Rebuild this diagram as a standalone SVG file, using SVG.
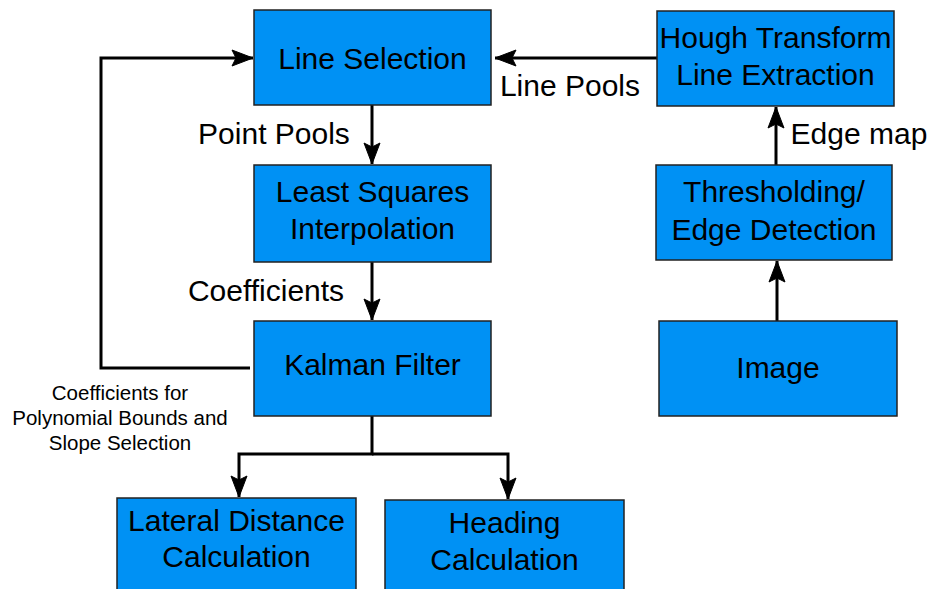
<svg xmlns="http://www.w3.org/2000/svg" width="930" height="589" viewBox="0 0 930 589">
<style>
.box{fill:#0091f4;stroke:#222;stroke-width:1.5}
.t{font-family:"Liberation Sans",Arial,sans-serif;font-size:30px;fill:#000;text-anchor:middle}
.s{font-family:"Liberation Sans",Arial,sans-serif;font-size:20.5px;fill:#000;text-anchor:middle}
.c{fill:none;stroke:#000;stroke-width:3}
</style>
<defs>
<marker id="ah" markerUnits="userSpaceOnUse" markerWidth="22" markerHeight="18" viewBox="0 0 22 18" refX="21" refY="9" orient="auto" overflow="visible">
<path d="M0,1 L21,9 L0,17 L4,9 Z" fill="#000" stroke="#000" stroke-width="1" stroke-linejoin="miter"/>
</marker>
</defs>
<rect width="930" height="589" fill="#fff"/>
<g id="connectors">
<path class="c" d="M657,58 L495,58" marker-end="url(#ah)"/>
<path class="c" d="M250,368 L101,368 L101,58 L253,58" marker-end="url(#ah)"/>
<path class="c" d="M372,105 L372,164" marker-end="url(#ah)"/>
<path class="c" d="M372,262 L372,320" marker-end="url(#ah)"/>
<path class="c" d="M372,416 L372,454 L239,454 L239,497" marker-end="url(#ah)"/>
<path class="c" d="M372,454 L508,454 L508,499" marker-end="url(#ah)"/>
<path class="c" d="M777,321 L777,261" marker-end="url(#ah)"/>
<path class="c" d="M776,165 L776,107" marker-end="url(#ah)"/>
<text class="t" x="570" y="96">Line Pools</text>
<text class="t" x="274" y="144">Point Pools</text>
<text class="t" x="266" y="301">Coefficients</text>
<text class="t" x="859" y="144">Edge map</text>
<text class="s" x="120" y="400">Coefficients for</text>
<text class="s" x="120" y="425">Polynomial Bounds and</text>
<text class="s" x="120" y="450">Slope Selection</text>
</g>
<g id="line-selection"><rect class="box" x="254" y="10" width="237" height="95"/><text class="t" x="372.5" y="68.5">Line Selection</text></g>
<g id="hough"><rect class="box" x="657" y="11" width="237" height="95"/><text class="t" x="775.5" y="48">Hough Transform</text><text class="t" x="775.5" y="85">Line Extraction</text></g>
<g id="least-squares"><rect class="box" x="254" y="165" width="237" height="97"/><text class="t" x="372.5" y="202">Least Squares</text><text class="t" x="372.5" y="239">Interpolation</text></g>
<g id="thresholding"><rect class="box" x="656" y="165" width="236" height="95"/><text class="t" x="774" y="202">Thresholding/</text><text class="t" x="774" y="240">Edge Detection</text></g>
<g id="kalman"><rect class="box" x="254" y="321" width="237" height="95"/><text class="t" x="372.5" y="375">Kalman Filter</text></g>
<g id="image"><rect class="box" x="659" y="321" width="238" height="95"/><text class="t" x="778" y="378">Image</text></g>
<g id="lateral"><rect class="box" x="117" y="498" width="239" height="100"/><text class="t" x="236.5" y="531">Lateral Distance</text><text class="t" x="236.5" y="567">Calculation</text></g>
<g id="heading"><rect class="box" x="385" y="500" width="239" height="100"/><text class="t" x="504.5" y="533">Heading</text><text class="t" x="504.5" y="570">Calculation</text></g>
</svg>
